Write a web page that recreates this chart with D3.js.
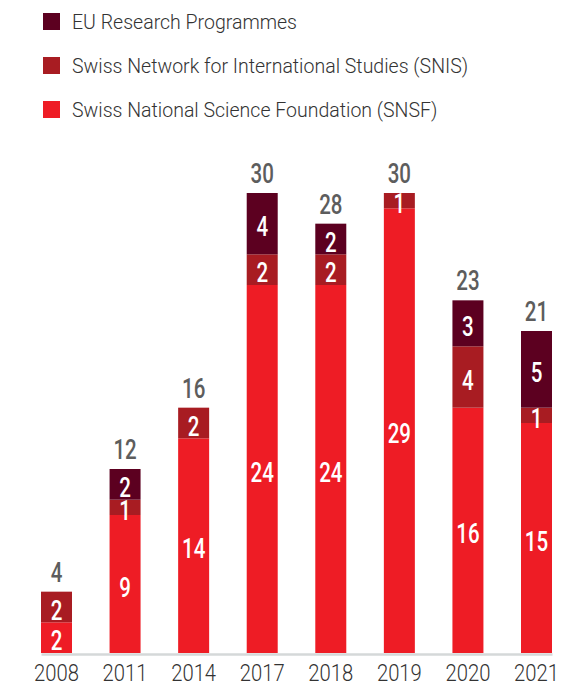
<!DOCTYPE html>
<html>
<head>
<meta charset="utf-8">
<script src="https://cdn.jsdelivr.net/npm/d3@7"></script>
<style>
  body { margin: 0; background: #fff; }
  text { font-family: "Roboto", "Liberation Sans", sans-serif; }
</style>
</head>
<body>
<div id="chart"></div>
<script>
var years = ["2008", "2011", "2014", "2017", "2018", "2019", "2020", "2021"];
var snsf = [2, 9, 14, 24, 24, 29, 16, 15];
var snis = [2, 1, 2, 2, 2, 1, 4, 1];
var eu   = [0, 2, 0, 4, 2, 0, 3, 5];
var seriesNames = ["Swiss National Science Foundation (SNSF)",
                   "Swiss Network for International Studies (SNIS)",
                   "EU Research Programmes"];
var colors = ["#ee1c25", "#a81c22", "#5c0020"];

var width = 586, height = 687;
var narrow = 0.76; // squeeze Roboto to look like a condensed face

var rows = years.map(function(y, i) {
    return {year: y, snsf: snsf[i], snis: snis[i], eu: eu[i]};
});
var keys = ["snsf", "snis", "eu"];
var stacked = d3.stack().keys(keys)(rows);

var svg = d3.select("#chart").append("svg")
    .attr("width", width)
    .attr("height", height);

var x = d3.scaleBand()
    .domain(years)
    .range([41, 552])
    .paddingInner(0.548)
    .paddingOuter(0);

var y = d3.scaleLinear()
    .domain([0, 30])
    .range([653, 193]);

// axis
var axis = svg.append("g")
    .attr("transform", "translate(0," + 654 + ")")
    .call(d3.axisBottom(x).tickSize(0).tickSizeOuter(0).tickPadding(11));
axis.select(".domain").attr("stroke", "#d5d8d9").attr("stroke-width", 2.5);
axis.selectAll("text")
    .attr("font-size", 23)
    .attr("font-weight", 300)
    .attr("fill", "#333")
    .attr("transform", "scale(0.88,1)")
    .style("font-family", "Roboto, sans-serif");

// bars
var layer = svg.selectAll("g.layer")
    .data(stacked)
    .enter().append("g")
    .attr("class", "layer")
    .attr("fill", function(d, i) { return colors[i]; });

layer.selectAll("rect")
    .data(function(d) { return d.filter(function(s) { return s[1] > s[0]; }); })
    .enter().append("rect")
    .attr("x", function(d) { return x(d.data.year); })
    .attr("y", function(d) { return y(d[1]); })
    .attr("width", x.bandwidth())
    .attr("height", function(d) { return y(d[0]) - y(d[1]); });

// segment labels
layer.selectAll("text")
    .data(function(d) { return d.filter(function(s) { return s[1] > s[0]; }); })
    .enter().append("text")
    .attr("transform", function(d) {
        var cx = x(d.data.year) + x.bandwidth() / 2;
        var cy = (y(d[0]) + y(d[1])) / 2 + 3;
        return "translate(" + cx + "," + cy + ") scale(" + narrow + ",1)";
    })
    .attr("dy", "0.36em")
    .attr("text-anchor", "middle")
    .attr("font-size", 27)
    .attr("font-weight", 500)
    .attr("fill", "#fff")
    .text(function(d) { return d[1] - d[0]; });

// totals
svg.selectAll("text.total")
    .data(rows)
    .enter().append("text")
    .attr("class", "total")
    .attr("transform", function(d) {
        var cx = x(d.year) + x.bandwidth() / 2;
        var cy = y(d.snsf + d.snis + d.eu) - 10;
        return "translate(" + cx + "," + cy + ") scale(" + narrow + ",1)";
    })
    .attr("text-anchor", "middle")
    .attr("font-size", 27)
    .attr("font-weight", 500)
    .attr("fill", "#5d5d5d")
    .text(function(d) { return d.snsf + d.snis + d.eu; });

// legend (EU first)
var legendOrder = [2, 1, 0];
var legend = svg.selectAll("g.legend")
    .data(legendOrder)
    .enter().append("g")
    .attr("class", "legend")
    .attr("transform", function(d, i) { return "translate(43," + (13 + i * 44) + ")"; });
legend.append("rect")
    .attr("width", 17)
    .attr("height", 17)
    .attr("fill", function(d) { return colors[d]; });
legend.append("text")
    .attr("transform", "translate(29,16) scale(0.93,1)")
    .attr("font-size", 21)
    .attr("font-weight", 300)
    .attr("fill", "#333")
    .text(function(d) { return seriesNames[d]; });
</script>
</body>
</html>
